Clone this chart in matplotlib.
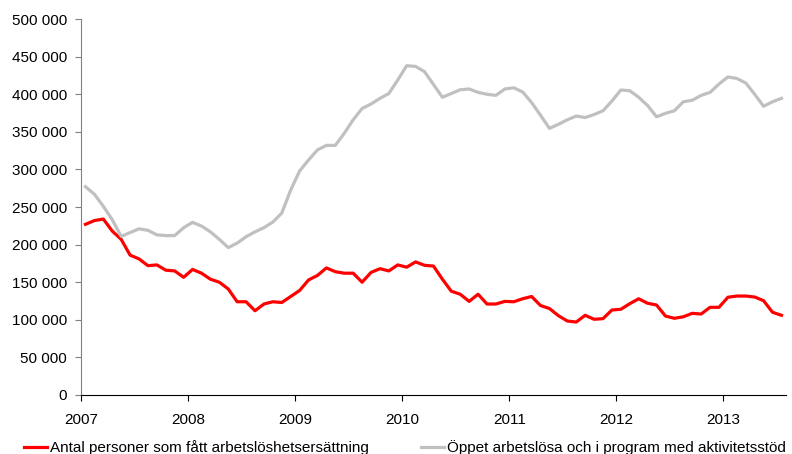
import numpy as np
import matplotlib
matplotlib.use("Agg")
import matplotlib.pyplot as plt
from matplotlib.ticker import FuncFormatter

plt.rcParams['font.family'] = ['Liberation Sans', 'DejaVu Sans']

# Månadsdata jan 2007 - jul 2013
ersattning = [227, 232, 234, 218, 207, 186, 181, 172, 173, 166, 165, 156.5,
              167, 162, 154, 150, 141, 124, 124, 112, 121, 124, 123, 131,
              139, 153, 159, 169, 164, 162, 162, 150, 163, 168, 165, 173,
              170, 177, 172.5, 171.5, 154, 138, 134, 124.5, 134, 121, 121, 124.5,
              124, 128, 131, 119, 115, 105.5, 98.4, 97, 106, 100.7, 101.5, 113,
              114, 121.4, 128, 122, 119.7, 105, 102, 104, 108.6, 107.7, 116.6, 116.6,
              130, 131.6, 131.6, 130.3, 125.4, 110, 106]
aktivitetsstod = [277, 267, 251, 233, 211, 216, 221, 219, 213, 212, 212, 222.5,
                  229.6, 224.7, 217, 207, 196, 202, 210.5, 217, 222.5, 230, 242, 272.6,
                  298, 312.5, 326, 332, 332, 348, 366, 381, 387, 394.5, 401, 419,
                  438, 437, 430, 413, 396, 401, 406, 407, 402.5, 400, 398.5, 407,
                  408.6, 403, 389, 372, 354.6, 360, 366, 371, 369, 373, 378, 391,
                  405.6, 404.7, 396, 385, 370, 374.6, 378, 390, 392, 398.5, 402.5, 413.6,
                  423, 421, 415, 400, 384, 390, 394.5]
years = ['2007', '2008', '2009', '2010', '2011', '2012', '2013']

ers = np.array(ersattning) * 1000
akt = np.array(aktivitetsstod) * 1000
x = np.arange(len(ers)) + 0.5

fig = plt.figure(figsize=(7.92, 4.54), dpi=100)
ax = fig.add_axes([0.1023, 0.130, 0.890, 0.828])

ax.plot(x, ers, color='#ff0000', lw=2.3, solid_joinstyle='round',
        label='Antal personer som fått arbetslöshetsersättning')
ax.plot(x, akt, color='#c0c0c0', lw=2.3, solid_joinstyle='round',
        label='Öppet arbetslösa och i program med aktivitetsstöd')

ax.set_xlim(0, len(ers))
ax.set_ylim(0, 500000)
ax.set_yticks(np.arange(0, 500001, 50000))
ax.yaxis.set_major_formatter(FuncFormatter(lambda v, p: f'{int(v):,}'.replace(',', ' ')))
ax.set_xticks(np.arange(len(years)) * 12)
ax.set_xticklabels(years)

for s in ['top', 'right']:
    ax.spines[s].set_visible(False)
ax.spines['left'].set_color('#808080')
ax.spines['bottom'].set_color('black')
ax.tick_params(axis='y', direction='out', length=4, color='#808080', labelsize=11, pad=6)
ax.tick_params(axis='x', direction='out', length=4, color='black', labelsize=11, pad=9)

fig.legend(loc='lower left', bbox_to_anchor=(0.013, -0.033), ncol=2, frameon=False,
           fontsize=11, handlelength=1.5, handletextpad=0.2, columnspacing=3.4)

fig.savefig('out.png', dpi=100)
